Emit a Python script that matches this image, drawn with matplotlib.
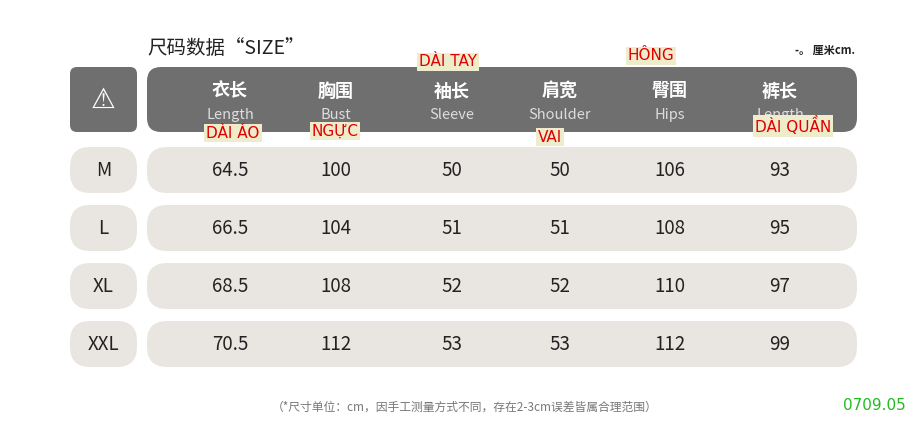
import matplotlib
matplotlib.use("Agg")
import matplotlib.pyplot as plt
from matplotlib.patches import FancyBboxPatch

plt.rcParams['font.family'] = ['Noto Sans CJK SC', 'DejaVu Sans']

sizes = ["M", "L", "XL", "XXL"]
headers_cn = ["衣长", "胸围", "袖长", "肩宽", "臀围", "裤长"]
headers_en = ["Length", "Bust", "Sleeve", "Shoulder", "Hips", "Length"]
length = ["64.5", "66.5", "68.5", "70.5"]
bust = ["100", "104", "108", "112"]
sleeve = ["50", "51", "52", "53"]
shoulder = ["50", "51", "52", "53"]
hips = ["106", "108", "110", "112"]
pants = ["93", "95", "97", "99"]
columns = [length, bust, sleeve, shoulder, hips, pants]
vn_labels = ["DÀI ÁO", "NGỰC", "DÀI TAY", "VAI", "HÔNG", "DÀI QUẦN"]

W, H = 917, 421
fig = plt.figure(figsize=(W/100, H/100), dpi=100)
ax = fig.add_axes([0, 0, 1, 1])
ax.set_xlim(0, W); ax.set_ylim(H, 0); ax.axis('off')

col_x = [230, 336, 452, 560, 670, 780]
row_y = [170, 228, 286, 344]

def rbox(x0, y0, x1, y1, r, color):
    ax.add_patch(FancyBboxPatch((x0 + r, y0 + r), x1 - x0 - 2*r, y1 - y0 - 2*r,
                                boxstyle=f"round,pad={r}", fc=color, ec='none'))

# title
ax.text(147, 48, "尺码数据“SIZE”", fontsize=14, va='center', ha='left', color='#222222',
        fontweight='medium')
ax.text(855, 50, "-。 厘米cm.", fontsize=8, va='center', ha='right', color='#222222', fontweight='bold')

# header
rbox(70, 67, 137, 132, 7, '#6f6f6f')
ax.text(103.5, 100, "⚠", fontsize=20, ha='center', va='center', color='white',
        family=['DejaVu Sans'])
rbox(147, 67, 857, 132, 14, '#6f6f6f')
for x, cn, en in zip(col_x, headers_cn, headers_en):
    ax.text(x, 91, cn, fontsize=13, ha='center', va='center', color='white', fontweight='bold')
    ax.text(x, 115, en, fontsize=10.5, ha='center', va='center', color='#dddddd')

# rows
for i, (y, s) in enumerate(zip(row_y, sizes)):
    rbox(70, y - 23, 137, y + 23, 20, '#e9e6e2')
    rbox(147, y - 23, 857, y + 23, 20, '#e9e6e2')
    ax.text(103.5, y, s, fontsize=13.5, ha='center', va='center', color='#222222',
            fontweight='medium')
    for x, col in zip(col_x, columns):
        ax.text(x, y + 1, col[i], fontsize=13.5, ha='center', va='center', color='#222222')

# vietnamese labels
vn_pos = [(233, 133), (335, 131), (448, 62), (550, 137), (651, 56), (793, 126)]
for (x, y), t in zip(vn_pos, vn_labels):
    ax.text(x, y, t, fontsize=11, ha='center', va='center', color='#e00000',
            family=['DejaVu Sans'],
            bbox=dict(boxstyle='square,pad=0.12', fc='#efeccc', ec='none'))

ax.text(465, 407, "（*尺寸单位：cm，因手工测量方式不同，存在2-3cm误差皆属合理范围）",
        fontsize=8.5, ha='center', va='center', color='#777777')
ax.text(906, 405, "0709.05", fontsize=11, ha='right', va='center', color='#22bb22',
        family=['DejaVu Sans'])

fig.savefig("out.png", dpi=100, facecolor='white')
